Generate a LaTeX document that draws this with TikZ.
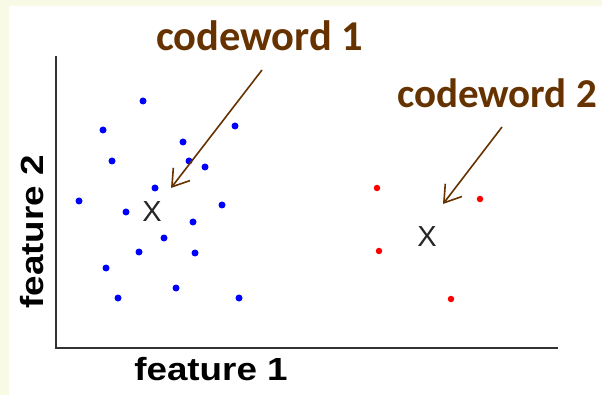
\documentclass[tikz,border=0pt]{standalone}
\usepackage{fontspec}
\setmainfont{Liberation Sans}
\newfontfamily\calib{Carlito}
\usetikzlibrary{arrows.meta}
\definecolor{paper}{RGB}{248,250,230}
\definecolor{brownish}{RGB}{102,51,0}
\definecolor{axisgray}{RGB}{50,50,50}
\definecolor{ptblue}{RGB}{0,0,255}
\definecolor{ptred}{RGB}{255,0,0}
\tikzset{
  bluept/.style={circle,fill=ptblue,inner sep=0pt,minimum size=7pt},
  redpt/.style={circle,fill=ptred,inner sep=0pt,minimum size=6.5pt},
  codemark/.style={font=\fontsize{29}{29}\selectfont,text=black!85,inner sep=0pt},
  callout/.style={font=\calib\bfseries\fontsize{42.5}{42.5}\selectfont,text=brownish,inner sep=0pt,anchor=base west},
  pointer/.style={draw=brownish,line width=1.6pt,-{Straight Barb[length=16pt,width=21pt,line width=1.6pt]}},
  axislabel/.style={font=\bfseries\fontsize{32}{32}\selectfont,inner sep=0pt,xscale=1.15}
}
\begin{document}
\begin{tikzpicture}[x=1pt,y=-1pt]
\useasboundingbox (0,0) rectangle (602,395);
\fill[paper] (0,0) rectangle (602,395);
\fill[white] (9,6) rectangle (602,395);

% axes
\coordinate (top) at (56,56);
\coordinate (origin) at (56,348);
\coordinate (right) at (558,348);
\draw[axisgray,line width=2pt] (top) -- (origin) -- (right);

% cluster 1
\foreach \n/\px/\py in {1/143/101,2/103/130,3/235/126,4/183/142,5/112/161,6/189/161,
  7/205/167,8/155/188,9/79/201,10/126/212,11/222/205,12/193/222,13/164/238,
  14/139/252,15/195/253,16/106/268,17/176/288,18/118/298,19/239/298}
  \node[bluept] (b\n) at (\px,\py) {};

% cluster 2
\foreach \n/\px/\py in {1/377/188,2/480/199,3/379/251,4/451/299}
  \node[redpt] (r\n) at (\px,\py) {};

% codewords
\node[codemark] (cw1) at (152,212) {X};
\node[codemark] (cw2) at (427,237) {X};

% callouts
\node[callout] (lab1) at (156,51) {codeword 1};
\node[callout,font=\calib\bfseries\fontsize{41}{41}\selectfont] (lab2) at (397,108) {codeword 2};
\coordinate (p1s) at (262,70);
\coordinate (p1e) at (171,188);
\coordinate (p2s) at (502,127);
\coordinate (p2e) at (443,204);
\draw[pointer] (p1s) -- (p1e);
\draw[pointer] (p2s) -- (p2e);

% axis labels
\node[axislabel,anchor=base] (fx) at (211,380) {feature 1};
\node[axislabel,anchor=base,yscale=1.15,xscale=1/1.15,rotate=90] (fy) at (43,232) {feature 2};
\end{tikzpicture}
\end{document}
